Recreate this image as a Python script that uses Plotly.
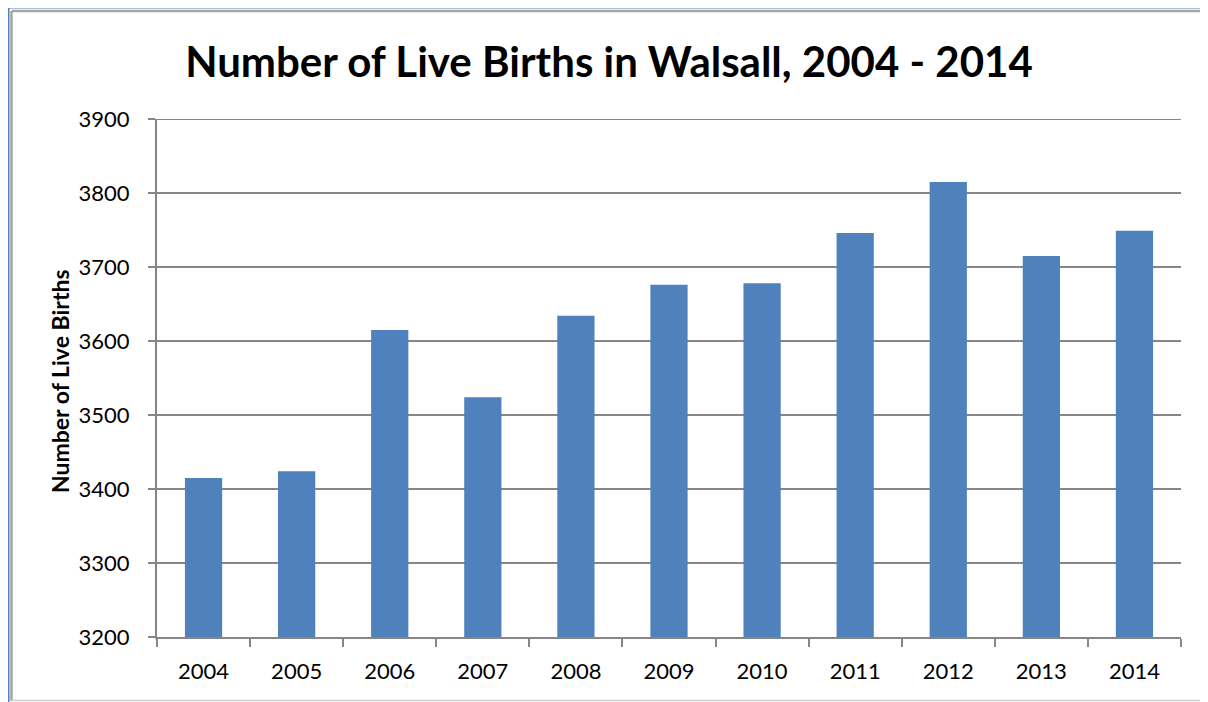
import plotly.graph_objects as go

years = ["2004", "2005", "2006", "2007", "2008", "2009", "2010", "2011", "2012", "2013", "2014"]
births = [3415, 3424, 3615, 3524, 3634, 3676, 3678, 3746, 3815, 3715, 3749]
y_ticks = [3200, 3300, 3400, 3500, 3600, 3700, 3800, 3900]

OFF = 8  # default page body margin
W, H = 1208 - OFF, 702 - OFF
L, R, T, B = 157 - OFF, 1181 - OFF, 119 - OFF, 637 - OFF

def px(x):
    return (x - OFF - L) / (R - L)

def py(y):
    return (B - (y - OFF)) / (B - T)

GRID = "#868686"

def pline(x0, y0, x1, y1, color, width):
    return dict(type="line", xref="paper", yref="paper", x0=px(x0), x1=px(x1), y0=py(y0), y1=py(y1),
                line=dict(color=color, width=width), layer="below")

fig = go.Figure(go.Bar(x=years, y=births, marker=dict(color="#4F81BD", line=dict(width=0)), width=0.4))

fig.update_layout(
    width=W, height=H,
    margin=dict(l=L, r=W - R, t=T, b=H - B, autoexpand=False),
    paper_bgcolor="white", plot_bgcolor="white",
    showlegend=False,
    title=dict(text="<b>Number of Live Births in Walsall, 2004 - 2014</b>",
               x=(609 - OFF) / W, xanchor="center", xref="container",
               y=1 - (62 - OFF) / H, yanchor="middle",
               font=dict(family="Lato", size=42, color="black")),
    font=dict(family="Lato", color="black"),
    shapes=[
        pline(8.5, 7.5, 1210, 7.5, "#4F81BD", 2),
        pline(8.5, 7.5, 8.5, 710, "#4F81BD", 2),
        pline(11.5, 11, 1210, 11, "#A6A6A6", 2.5),
        pline(11.5, 11, 11.5, 701, "#A6A6A6", 2.5),
        pline(11.5, 700.5, 1204, 700.5, "#D0D0D0", 1.5),
        pline(1203.5, 11, 1203.5, 701, "#E6E6E6", 1),
        dict(type="line", xref="paper", yref="y", x0=0, x1=1, y0=y_ticks[-1], y1=y_ticks[-1],
             line=dict(color=GRID, width=2), layer="below"),
    ],
    annotations=[
        dict(text="<b>Number of Live Births</b>", xref="paper", yref="paper",
             x=px(60), y=py(381), xanchor="center", yanchor="middle", textangle=-90,
             showarrow=False, font=dict(family="Lato", size=23, color="black")),
    ],
)
fig.update_xaxes(
    type="category", showline=True, linecolor=GRID, linewidth=2,
    ticks="outside", tickson="boundaries", ticklen=8, tickcolor=GRID, tickwidth=2,
    ticklabelstandoff=14,
    tickfont=dict(family="Lato", size=22, color="black"), showgrid=False,
)
fig.update_yaxes(
    range=[y_ticks[0], y_ticks[-1]], tickvals=y_ticks, showline=True, linecolor=GRID, linewidth=2,
    ticks="outside", ticklen=7, tickcolor=GRID, tickwidth=2,
    ticklabelstandoff=14,
    tickfont=dict(family="Lato", size=22, color="black"),
    showgrid=True, gridcolor=GRID, gridwidth=2, zeroline=False,
)
fig.write_html("out.html")
